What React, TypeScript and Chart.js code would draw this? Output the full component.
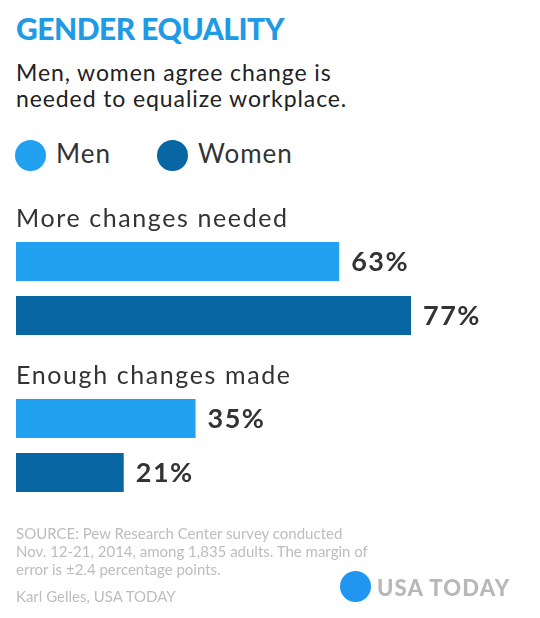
import { useEffect, useRef } from "react"
import { Chart, registerables, type Plugin } from "chart.js"

Chart.register(...registerables)

const categories = ["More changes needed", "Enough changes made"]
const seriesNames = ["Men", "Women"]
const menValues = [63, 35]
const womenValues = [77, 21]

const seriesColors = ["#22a1f0", "#0866a3"]
const textColor = "#333333"
const font = "Lato, 'Open Sans', sans-serif"

// category headings above each group and the value at the end of each bar
const barLabels: Plugin<"bar"> = {
  id: "barLabels",
  afterDatasetsDraw(chart) {
    const { ctx, chartArea } = chart
    ctx.save()
    ctx.fillStyle = textColor
    ctx.textAlign = "left"
    ctx.textBaseline = "alphabetic"

    ctx.font = `25px ${font}`
    ;(ctx as any).letterSpacing = "1.6px"
    chart.getDatasetMeta(0).data.forEach((bar, i) => {
      const { y, height } = bar.getProps(["y", "height"], true) as any
      ctx.fillText(String(chart.data.labels?.[i]), chartArea.left, y - height / 2 - 15)
    })

    ctx.font = `bold 27px ${font}`
    ;(ctx as any).letterSpacing = "1.5px"
    chart.data.datasets.forEach((ds, di) => {
      chart.getDatasetMeta(di).data.forEach((bar, i) => {
        const { x, y } = bar.getProps(["x", "y"], true) as any
        ctx.fillText(`${ds.data[i]}%`, x + 12, y + 9.5)
      })
    })
    ctx.restore()
  },
}

function BarChart() {
  const canvasRef = useRef<HTMLCanvasElement>(null)

  useEffect(() => {
    if (!canvasRef.current) return
    const chart = new Chart(canvasRef.current, {
      type: "bar",
      data: {
        labels: categories,
        datasets: [
          { label: seriesNames[0], data: menValues, backgroundColor: seriesColors[0] },
          { label: seriesNames[1], data: womenValues, backgroundColor: seriesColors[1] },
        ],
      },
      options: {
        indexAxis: "y",
        responsive: true,
        maintainAspectRatio: false,
        animation: false,
        layout: { padding: { left: 16, right: 11, top: 10, bottom: 6 } },
        datasets: { bar: { categoryPercentage: 0.688, barPercentage: 0.722 } },
        plugins: {
          legend: { display: false },
          tooltip: { enabled: false },
        },
        scales: {
          x: { min: 0, max: 100, display: false },
          y: { display: false },
        },
      },
      plugins: [barLabels],
    })
    return () => chart.destroy()
  }, [])

  return (
    <div style={{ position: "absolute", left: 0, top: 200, width: 540, height: 330 }}>
      <canvas ref={canvasRef}></canvas>
    </div>
  )
}

export default function App() {
  const abs = { position: "absolute" as const, margin: 0, whiteSpace: "nowrap" as const }
  return (
    <div
      style={{
        position: "absolute",
        left: 0,
        top: 0,
        width: 540,
        height: 618,
        background: "#fff",
        fontFamily: font,
        overflow: "hidden",
      }}
    >
      <div style={{ ...abs, left: 16, top: 13, fontSize: 30, lineHeight: "30px", fontWeight: 900, color: "#1f9be6", letterSpacing: -0.5 }}>
        GENDER EQUALITY
      </div>
      <div style={{ ...abs, left: 16, top: 59, fontSize: 23, lineHeight: "26px", color: "#222", letterSpacing: 0.9 }}>
        Men, women agree change is
        <br />
        needed to equalize workplace.
      </div>

      {seriesNames.map((name, i) => (
        <div key={name}>
          <div
            style={{
              ...abs,
              left: i === 0 ? 15 : 157,
              top: 139.5,
              width: 31,
              height: 31,
              borderRadius: "50%",
              background: seriesColors[i],
            }}
          />
          <div style={{ ...abs, left: i === 0 ? 56 : 198, top: 140, fontSize: 26, lineHeight: "26px", color: textColor, letterSpacing: 1 }}>
            {name}
          </div>
        </div>
      ))}

      <BarChart />

      <div style={{ ...abs, left: 16, top: 524, fontSize: 15, lineHeight: "18px", color: "#bdbdbd" }}>
        SOURCE: Pew Research Center survey conducted
        <br />
        Nov. 12-21, 2014, among 1,835 adults. The margin of
        <br />
        error is ±2.4 percentage points.
      </div>
      <div style={{ ...abs, left: 16, top: 587, fontSize: 15, lineHeight: "18px", color: "#bdbdbd" }}>
        Karl Gelles, USA TODAY
      </div>

      <div style={{ ...abs, left: 340, top: 571, width: 31, height: 31, borderRadius: "50%", background: "#2196f0" }} />
      <div style={{ ...abs, left: 377, top: 577, fontSize: 22, lineHeight: "22px", fontWeight: 900, color: "#b8b8b8", letterSpacing: 1.2 }}>
        USA TODAY
      </div>
    </div>
  )
}
